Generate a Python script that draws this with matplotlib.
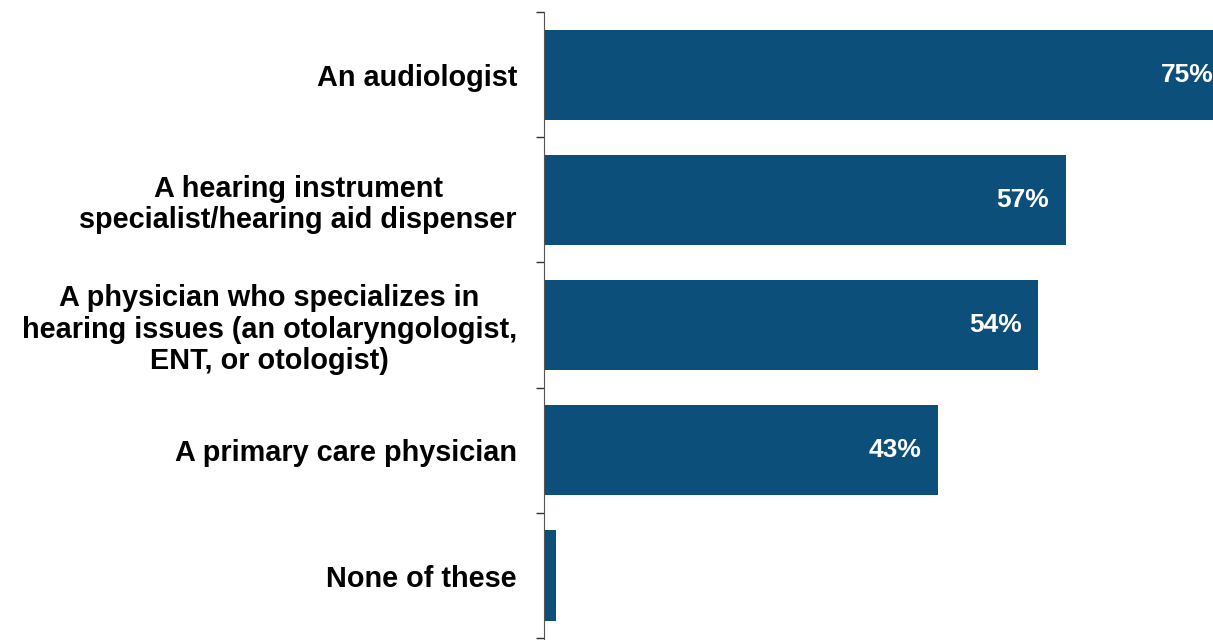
import matplotlib
matplotlib.use('Agg')
import matplotlib.pyplot as plt
import numpy as np

# data
categories = ['An audiologist',
              'A hearing instrument\nspecialist/hearing aid dispenser',
              'A physician who specializes in\nhearing issues (an otolaryngologist,\nENT, or otologist)',
              'A primary care physician',
              'None of these']
values = [75, 57, 54, 43, 1.3]
value_labels = ['75%', '57%', '54%', '43%', '']

plt.rcParams['font.family'] = ['Liberation Sans', 'DejaVu Sans']

fig = plt.figure(figsize=(12.13, 6.4), dpi=100)
ax = fig.add_axes([544 / 1213, 0.0, 1 - 544 / 1213, 1 - 12 / 640])

y = np.arange(len(categories))
ax.barh(y, values, height=0.72, color='#0c4f7b')

for yi, v, lab in zip(y, values, value_labels):
    if lab:
        ax.text(v - 1.8, yi, lab, ha='right', va='center', color='white',
                fontsize=19, fontweight='bold')

ax.set_xlim(0, 73.1)
ax.set_ylim(len(categories) - 0.5 + 0.015, -0.5)

ax.set_yticks(y)
ax.set_yticklabels(categories, fontsize=20.8, fontweight='bold',
                   multialignment='center', linespacing=1.15)
ax.tick_params(axis='y', which='major', length=0, pad=19.5)
ax.set_yticks(np.arange(len(categories) + 1) - 0.5, minor=True)
ax.tick_params(axis='y', which='minor', length=6, width=1, color='#333333')

for s in ['top', 'right', 'bottom']:
    ax.spines[s].set_visible(False)
ax.spines['left'].set_color('#555555')
ax.set_xticks([])

fig.savefig('out.png', dpi=100)
